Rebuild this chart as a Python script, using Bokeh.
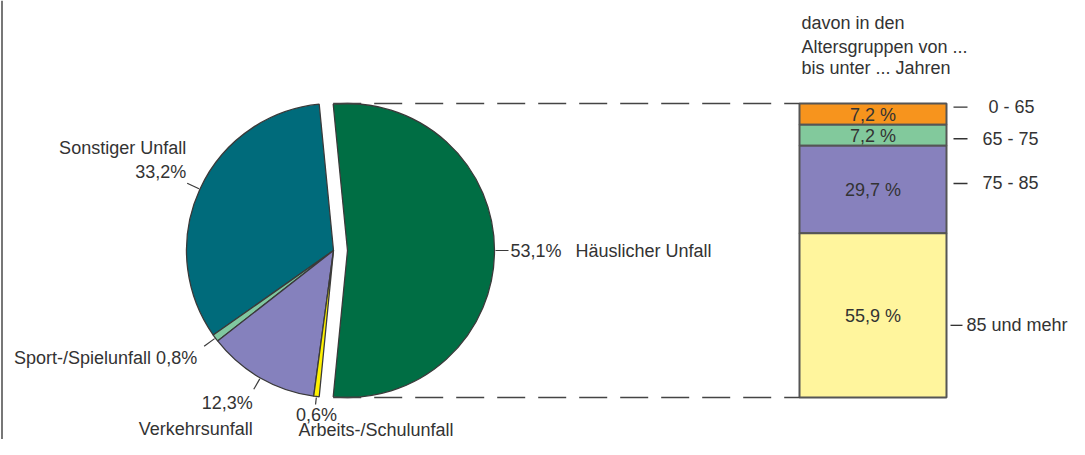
import math
from bokeh.plotting import figure
from bokeh.models import Range1d
from bokeh.core.properties import value
from bokeh.embed import file_html
from bokeh.resources import INLINE

# ---------------- data ----------------
causes = ["Häuslicher Unfall", "Sonstiger Unfall", "Sport-/Spielunfall",
          "Verkehrsunfall", "Arbeits-/Schulunfall"]
cause_pct = [53.1, 33.2, 0.8, 12.3, 0.6]
cause_pct_labels = ["53,1%", "33,2%", "0,8%", "12,3%", "0,6%"]
cause_colors = ["#006e44", "#006b7b", "#80c8a0", "#8581bd", "#fff200"]

age_groups = ["0 - 65", "65 - 75", "75 - 85", "85 und mehr"]
age_pct = [7.2, 7.2, 29.7, 55.9]
age_pct_labels = ["7,2 %", "7,2 %", "29,7 %", "55,9 %"]
age_colors = ["#f7941d", "#82c99c", "#8781bd", "#fff59d"]

note_lines = ["davon in den", "Altersgruppen von ...", "bis unter ... Jahren"]

# ---------------- layout (pixel space, y measured downward) ----------------
FW, FH = 1069, 439
def Y(y):  # convert downward pixel y to upward data y
    return FH - y

FONT = value("Liberation Sans")
FS = "18px"
TXT = "#333333"
EDGE = "#3a3a3a"

cx, cy, R = 333.0, 250.0, 147.0
explode = 14.0
lead = [14.0, 14.0, 14.0, 13.0, 8.0]

p = figure(width=FW, height=FH, x_range=Range1d(0, FW), y_range=Range1d(0, FH),
           output_backend="svg", toolbar_location=None, min_border=0)
p.axis.visible = False
p.grid.visible = False
p.outline_line_color = None
p.background_fill_color = "white"
p.border_fill_color = "white"

# left frame line
p.segment(x0=[1.5], y0=[Y(FH)], x1=[1.5], y1=[Y(0)], line_color="#777777", line_width=2)

# ---------------- pie ----------------
start = -cause_pct[0] * 1.8
angles = []
a = start
for v in cause_pct:
    a0, a1 = a, a + v * 3.6
    angles.append((a0, a1))
    a = a1

xs, ys, sa, ea = [], [], [], []
leader = {"x0": [], "y0": [], "x1": [], "y1": []}
ends = []
for i, (a0, a1) in enumerate(angles):
    mid = math.radians((a0 + a1) / 2)
    off = explode if i == 0 else 0.0
    ccx = cx + off * math.cos(mid)
    ccy = cy - off * math.sin(mid)
    xs.append(ccx); ys.append(Y(ccy))
    sa.append(math.radians(a0)); ea.append(math.radians(a1))
    x0 = ccx + (R + 1) * math.cos(mid); y0 = ccy - (R + 1) * math.sin(mid)
    x1 = ccx + (R + lead[i]) * math.cos(mid); y1 = ccy - (R + lead[i]) * math.sin(mid)
    leader["x0"].append(x0); leader["y0"].append(Y(y0))
    leader["x1"].append(x1); leader["y1"].append(Y(y1))
    ends.append((x1, y1))

p.wedge(x=xs, y=ys, radius=R, start_angle=sa, end_angle=ea, direction="anticlock",
        fill_color=cause_colors, line_color=EDGE, line_width=1.3)
p.segment(x0=leader["x0"], y0=leader["y0"], x1=leader["x1"], y1=leader["y1"],
          line_color=EDGE, line_width=1.2)

# pie labels: (text, dx, dy, align) relative to leader end
pie_label_spec = [
    [(cause_pct_labels[0], 2, 0, "left"), (causes[0], 67, 0, "left")],
    [(cause_pct_labels[1], -1, -11, "right"), (causes[1], -1, -35, "right")],
    [(causes[2] + "  " + cause_pct_labels[2], -2, 12, "right")],
    [(cause_pct_labels[3], -1, 14, "right"), (causes[3], -1, 40, "right")],
    [(cause_pct_labels[4], 1, 11, "center"), (causes[4], -17, 26, "left")],
]
for (ex, ey), specs in zip(ends, pie_label_spec):
    for t, dx, dy, al in specs:
        p.text(x=[ex + dx], y=[Y(ey + dy)], text=[t], text_font=FONT, text_font_size=FS,
               text_color=TXT, text_align=al, text_baseline="middle")

# ---------------- stacked bar ----------------
bx0, bx1 = 799.0, 946.0
top = cy - R
bot = cy + R
scale = (bot - top) / sum(age_pct)
tops, bots, mids = [], [], []
yy = top
for v in age_pct:
    tops.append(Y(yy)); bots.append(Y(yy + v * scale)); mids.append(yy + v * scale / 2)
    yy += v * scale
p.quad(left=[bx0] * 4, right=[bx1] * 4, top=tops, bottom=bots, fill_color=age_colors,
       line_color="#555555", line_width=2)
p.text(x=[(bx0 + bx1) / 2] * 4, y=[Y(m + 1) for m in mids], text=age_pct_labels, text_font=FONT,
       text_font_size=FS, text_color=TXT, text_align="center", text_baseline="middle")

# connecting dashed lines
green_top_x = xs[0] + R * math.cos(math.radians(angles[0][1]))
p.segment(x0=[green_top_x, green_top_x], y0=[Y(top), Y(bot)], x1=[bx0, bx0], y1=[Y(top), Y(bot)],
          line_color="#444444", line_width=1.5, line_dash="28 13")

# age group labels
lab_dy = [-7, 3.5, -6, 10]
lab_x = [1011, 1010, 1010, 966]
lab_al = ["center", "center", "center", "left"]
dash_x0 = [953, 953, 953, 950]
dash_x1 = [967, 967, 967, 962]
for m, dy, lx, al, d0, d1, t in zip(mids, lab_dy, lab_x, lab_al, dash_x0, dash_x1, age_groups):
    p.segment(x0=[d0], y0=[Y(m + dy)], x1=[d1], y1=[Y(m + dy)], line_color=TXT, line_width=1.3)
    p.text(x=[lx], y=[Y(m + dy)], text=[t], text_font=FONT, text_font_size=FS,
           text_color=TXT, text_align=al, text_baseline="middle")

# note above bar
note_y = [22.7, 46, 67.7]
p.text(x=[801] * 3, y=[Y(v) for v in note_y], text=note_lines, text_font=FONT, text_font_size=FS,
       text_color=TXT, text_align="left", text_baseline="middle")

open("out.html", "w").write(file_html(p, INLINE))
